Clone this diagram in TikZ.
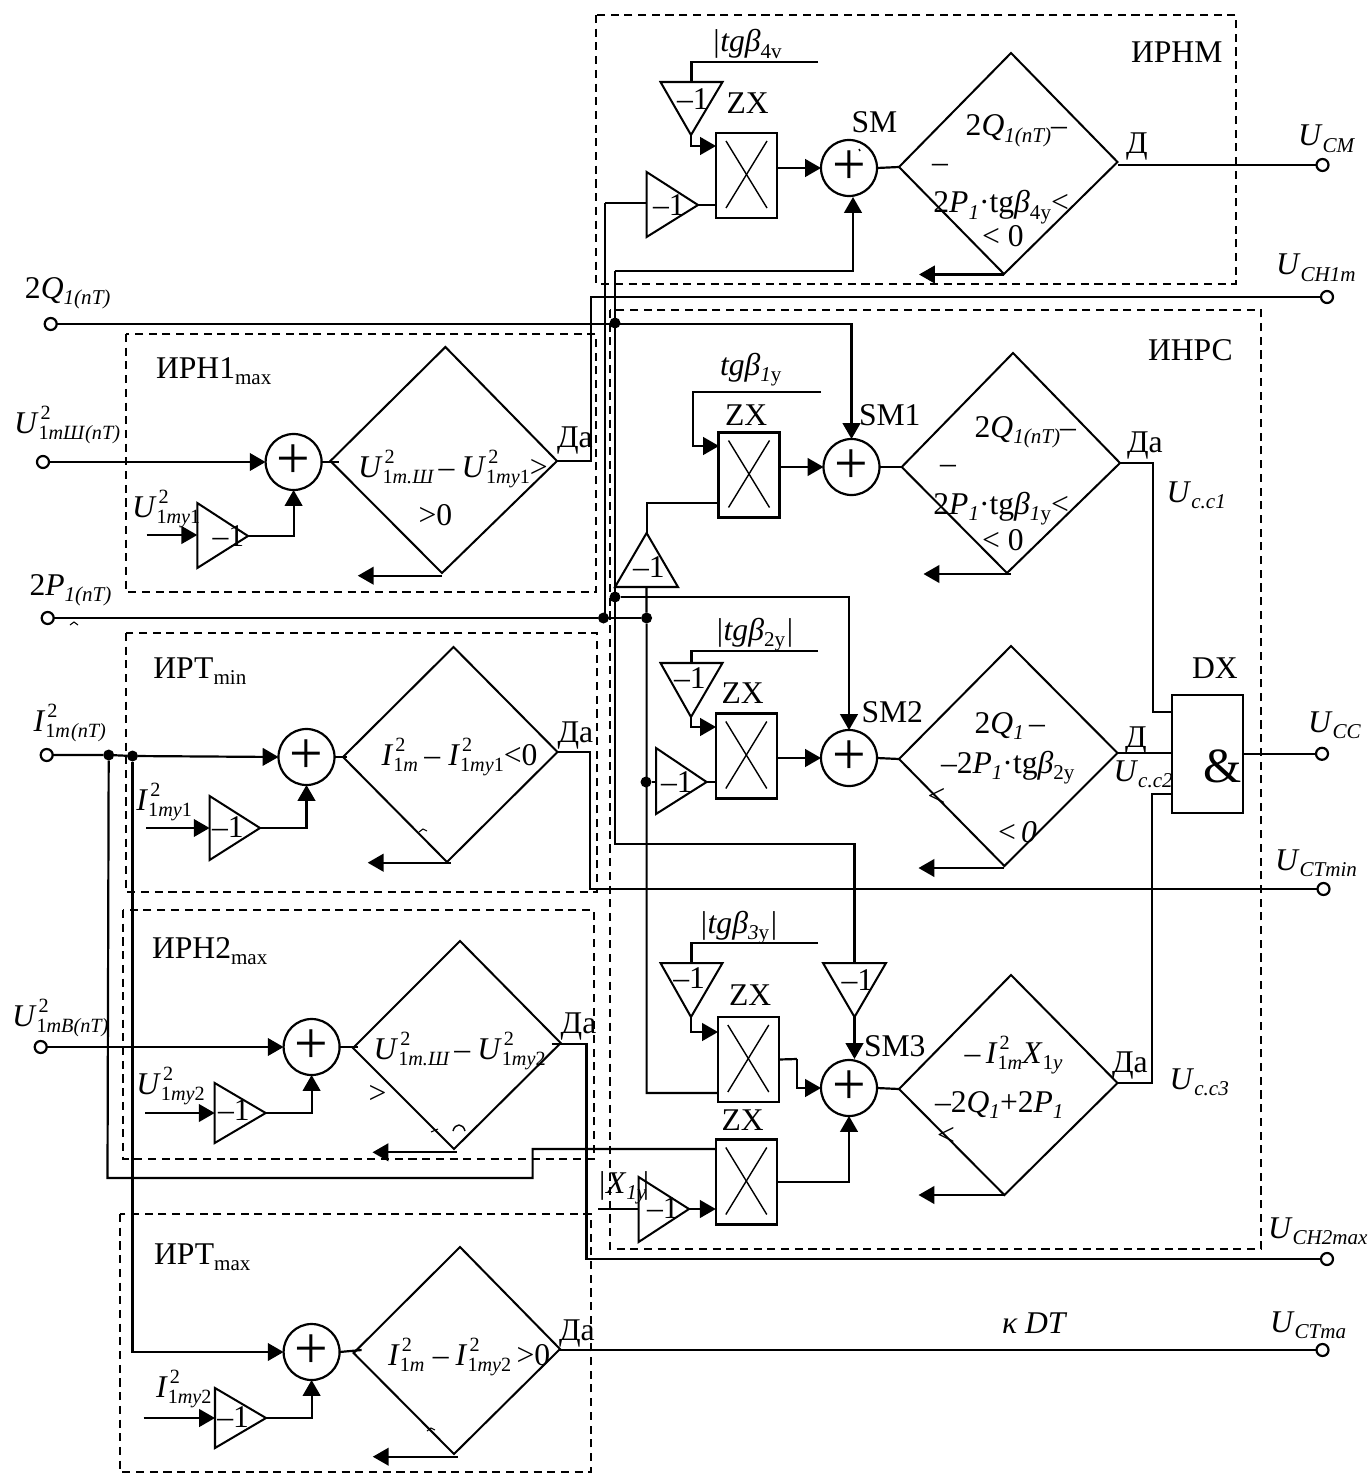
\documentclass[tikz,border=0pt]{standalone}
\usepackage{fontspec}
\setmainfont{Liberation Serif}
\usetikzlibrary{arrows.meta,calc}
\newdimen\pxu \pxu=0.5669pt
\newcounter{lbn}
\newcommand\sz{\fontsize{11.5}{12}\selectfont}
\newcommand\szb{\fontsize{12}{12}\selectfont}
\newcommand\I[1]{\textit{#1}}
\newcommand\lo[1]{\raisebox{-3.6pt}{\szb #1}}
\newcommand\hl[2]{\rlap{\kern1.2pt\raisebox{7.5pt}{\sz #1}}\raisebox{-3.8pt}{\sz #2}}
\newcommand\pw[2]{\makebox[#1\pxu][l]{#2}}
\newcommand\tx[2]{\stepcounter{lbn}\node[txt] (lb\thelbn) at (#1) {#2};}
\newcommand\tri[4]{\coordinate (#1a) at (#2);\coordinate (#1b) at (#3);\coordinate (#1c) at (#4);
  \coordinate (#1m) at ($(#1a)!.5!(#1b)$);
  \draw[shp] (#1a) -- (#1b) -- (#1c) -- cycle;}
\newcommand\dia[5]{\coordinate (#1t) at (#2);\coordinate (#1r) at (#3);\coordinate (#1b) at (#4);\coordinate (#1l) at (#5);
  \draw[shp] (#1t) -- (#1r) -- (#1b) -- (#1l) -- cycle;}
\newcommand\zx[2]{\node[zxbox] (#1) at (#2) {};
  \draw[shp,line width=.8pt] ([shift={(10,8)}]#1.north west) -- ([shift={(-10,-10)}]#1.south east);
  \draw[shp,line width=.8pt] ([shift={(-10,8)}]#1.north east) -- ([shift={(10,-10)}]#1.south west);}
\tikzset{
  shp/.style={line width=1.15pt,line join=miter},
  cn/.style={line width=1.25pt},
  arr/.style={line width=1.25pt,-{Triangle[length=9pt,width=10pt]}},
  dbox/.style={line width=1pt,dash pattern=on 4.6pt off 3.2pt},
  zxbox/.style={draw,line width=1.25pt,minimum width=61*0.02cm,minimum height=85*0.02cm,inner sep=0pt,outer sep=0pt},
  sumc/.style={draw,circle,line width=1.25pt,minimum size=56*0.02cm,inner sep=0pt,outer sep=0pt,font=\fontsize{34}{34}\selectfont},
  term/.style={draw,circle,line width=1.25pt,fill=white,minimum size=12*0.02cm,inner sep=0pt,outer sep=0pt},
  jdot/.style={circle,fill=black,minimum size=11*0.02cm,inner sep=0pt,outer sep=0pt},
  txt/.style={anchor=base west,inner sep=0pt,outer sep=0pt,font=\fontsize{18}{20}\selectfont},
}
\begin{document}
\begin{tikzpicture}[x=0.02cm,y=-0.02cm]
\useasboundingbox (0,0) rectangle (1368,1473);
\fill[white] (0,0) rectangle (1368,1473);
% dashed groups
\draw[dbox] (596,15) rectangle (1236,284);
\draw[dbox] (610,310) rectangle (1261,1249);
\draw[dbox] (126,334) rectangle (596,592);
\draw[dbox] (126,633) rectangle (597,892);
\draw[dbox] (123,910) rectangle (594,1159);
\draw[dbox] (120,1214) rectangle (591,1472);
% summers
\node[sumc] (sm)  at (849,168) {+};
\node[sumc] (sm1) at (851.5,467) {+};
\node[sumc] (sm2) at (849,758) {+};
\node[sumc] (sm3) at (849,1088) {+};
\node[sumc] (ia)  at (293.6,462) {+};
\node[sumc] (ib)  at (306.5,757) {+};
\node[sumc] (ic)  at (311.6,1047) {+};
\node[sumc] (id)  at (311.6,1352) {+};
% multipliers
\zx{zx0}{746.5,175.5}
\zx{zx1}{749,475}
\zx{zx2}{746.3,756}
\zx{zx3}{748.3,1059.5}
\zx{zx4}{746.3,1182}
% triangles
\tri{tna}{660.5,82}{722.5,82}{691,135}
\tri{tnb}{646.6,172}{646.6,237}{698,205}
\tri{tpa}{615,587}{678,587}{646.6,533}
\tri{tqa}{660.5,663}{722.5,663}{691,717}
\tri{tqb}{656,748}{656,814}{706.6,782}
\tri{tra}{660.5,963}{722.5,963}{691,1017}
\tri{trb}{823,963}{886,963}{854.5,1017}
\tri{tsa}{638.6,1177}{638.6,1242}{689,1209}
\tri{tua}{197.3,503}{197.3,568}{248,536}
\tri{tub}{209.6,796}{209.6,860}{260,828}
\tri{tuc}{214.7,1083}{214.7,1143}{265.7,1113}
\tri{tud}{215,1388}{215,1448}{266,1418}
% diamonds
\dia{da}{1011,53}{1117.5,162}{1004,274}{899,167}
\dia{db}{1013,353}{1120,463}{1007,573}{901.7,467}
\dia{dc}{1011,646}{1117.5,753}{1004.4,866}{899,759}
\dia{dd}{1011,975}{1117.5,1083}{1004.4,1195}{899,1089}
\dia{de}{445.4,347}{557,461}{442,573}{330.4,461}
\dia{df}{453.5,647}{557.5,752}{447,862}{343,757}
\dia{dg}{460,941}{560.7,1043}{454,1149}{353,1048}
\dia{dh}{460,1247}{560,1349}{454,1454}{353.6,1353}
% DX
\node[draw,line width=1.25pt,minimum width=70.6*0.02cm,minimum height=117.7*0.02cm,inner sep=0pt,outer sep=0pt] (dx) at (1207.3,753.8) {};
% terminals
\node[term] (tQ)  at (50.7,324) {};
\node[term] (tU1) at (43,462) {};
\node[term] (tP)  at (47.7,618) {};
\node[term] (tI)  at (46.7,755) {};
\node[term] (tU2) at (40.7,1047) {};
\node[term] (tCM) at (1322.5,165) {};
\node[term] (tH1) at (1327,297) {};
\node[term] (tCC) at (1322,753.8) {};
\node[term] (tCT) at (1323.5,889) {};
\node[term] (tH2) at (1327,1259) {};
\node[term] (tCX) at (1322.5,1350) {};
% junctions
\node[jdot] (jq) at (615,323) {};
\node[jdot] (jp) at (615,597) {};
\node[jdot] (jb) at (603.5,618) {};
\node[jdot] (jc) at (646.6,618) {};
\node[jdot] (jd) at (646,782) {};
\node[jdot] (jI) at (108.7,755) {};
\node[jdot] (jJ) at (132.5,756) {};
% free ends and bends
\coordinate (fa) at (818,62);
\coordinate (fb) at (821,392);
\coordinate (fc) at (818,651);
\coordinate (fd) at (818,943);
\coordinate (fe) at (598.4,1209);
\coordinate (ff) at (146.6,535);
\coordinate (fg) at (146,828);
\coordinate (fh) at (145,1113);
\coordinate (fi) at (143.7,1418);
\coordinate (ka) at (693,392);
\coordinate (kb) at (605,203);
\coordinate (kc) at (615,271);
\coordinate (kd) at (615,844);
\coordinate (ke) at (853,271);
\coordinate (kf) at (853,197);
\coordinate (kg) at (1153,463);
\coordinate (kh) at (1153,712);
\coordinate (ki) at (1152,1083);
\coordinate (kj) at (1152,794);
\coordinate (kk) at (591,461);
\coordinate (kl) at (591,297);
\coordinate (km) at (590,752);
\coordinate (kn) at (590,889);
\coordinate (ko) at (586.4,1044);
\coordinate (kp) at (586.4,1259);
\coordinate (kq) at (532.6,1178);
\coordinate (kr) at (532.6,1149);
\coordinate (ks) at (797,1059);
\coordinate (kt) at (854.5,1059);
\coordinate (ku) at (107.5,1178);
% connectors in the upper group
\draw[cn] (fa) -| (tnam);
\draw[arr] (tnac) |- (716,146);
\draw[cn] (tnbc) -- (tnbc -| zx0.west);
\draw[cn] (kb) -- (kb -| tnba);
\draw[cn] (kb) |- (jb);
\draw[arr] (sm.west -| zx0.east) -- (sm.west);
\draw[cn] (sm.east) -- (dal);
\draw[cn] (dar |- tCM) -- (tCM.west);
\draw[arr] (kc) -- (ke) -- (kf);
\draw[cn] (kc) -- (kd) -| (trbm);
\draw[arr] (1004,274.5) -- (919,274.5);
% first group in the centre
\draw[arr] (tQ.east) -| (sm1.north);
\draw[arr] (fb) -- (ka) |- (719,446);
\draw[cn] (tpac) |- (719,503);
\draw[arr] (sm1.west -| zx1.east) -- (sm1.west);
\draw[cn] (sm1.east) -- (dbl);
\draw[arr] (1011,574) -- (923.5,574);
\draw[cn] (dbr) -- (kg) |- (kh) -- (kh -| dx.west);
% second group
\draw[cn] (tP.east) -- (jb) -- (jc);
\draw[cn] (tpam) -- (jc) -- (646.6,782) |- (718,1093);
\draw[arr] (jp) -| (sm2.north);
\draw[cn] (fc) -| (tqam);
\draw[arr] (tqac) |- (716,727);
\draw[cn] (jd) -- (jd -| tqba);
\draw[cn] (tqbc) -- (tqbc -| zx2.west);
\draw[arr] (zx2.east |- sm2.west) -- (sm2.west);
\draw[cn] (sm2.east) -- (dcl);
\draw[arr] (1004,868) -- (918.5,868);
\draw[cn] (dcr) -- (dcr -| dx.west);
\draw[cn] (dx.east) -- (tCC.west);
% third group
\draw[cn] (fd) -| (tram);
\draw[arr] (trac) |- (718,1032);
\draw[arr] (trbc) -- (kt);
\draw[cn] (zx3.east) -- (ks);
\draw[arr] (ks) |- (sm3.west);
\draw[cn] (sm3.east) -- (ddl);
\draw[arr] (1004.4,1195) -- (918.5,1195);
\draw[cn] (ddr) -- (ki) |- (kj -| dx.west);
\draw[cn] (fe) -- (fe -| tsaa);
\draw[arr] (tsac) -- (tsac -| zx4.west);
\draw[arr] (zx4.east) -| (sm3.south);
% left inputs
\draw[arr] (tU1.east) -- (ia.west);
\draw[arr] (ff) -- (ff -| tuaa);
\draw[arr] (tuac) -| (ia.south);
\draw[cn] (ia.east) -- (339,462);
\draw[cn] (der) -- (kk) -- (kl) -- (tH1.west);
\draw[arr] (442,575.7) -- (357.8,575.7);
\draw[cn] (tI.east) -- (jI) -- (jJ);
\draw[arr] (jJ) -- (ib.west);
\draw[arr] (fg) -- (fg -| tuba);
\draw[arr] (tubc) -| (ib.south);
\draw[cn] (ib.east) -- (347,757);
\draw[cn] (dfr) -- (km) -- (kn) -- (tCT.west);
\draw[arr] (451,862.7) -- (367.7,862.7);
\draw[arr] (tU2.east) -- (ic.west);
\draw[arr] (fh) -- (fh -| tuca);
\draw[arr] (tucc) -| (ic.south);
\draw[cn] (ic.east) -- (358,1047);
\draw[cn] (551.6,1044) -- (ko) -- (kp) -- (tH2.west);
\draw[arr] (456.7,1152.3) -- (372.5,1152.3);
\draw[cn] (jI) -- (ku) -- (kq) -- (kr) -- (kr -| zx4.west);
\draw[arr] (jJ) |- (id.west);
\draw[arr] (fi) -- (fi -| tuda);
\draw[arr] (tudc) -| (id.south);
\draw[cn] (id.east) -- (361.6,1350);
\draw[cn] (559,1350) -- (tCX.west);
\draw[arr] (457.6,1456.7) -- (372.8,1456.7);
% texts: upper group
\tx{711.6,52}{\I{|tgβ}\lo{4v}}
\tx{1131,63}{ИРНМ}
\tx{726.5,114}{ZX}
\tx{851.5,133}{SM}
\tx{677,110}{–1}
\tx{653,215}{–1}
\tx{965.7,136}{2\I{Q}\lo{\I{1(nT)}}–}
\tx{932,173}{–}
\tx{933.4,213}{2\I{P}\lo{\I{1}}·tg\I{β}\lo{4y}<}
\begin{scope}
\clip (970,220) rectangle (1040,247);
\tx{982,246.5}{< 0}
\end{scope}
\tx{1126,154}{Д}
\tx{1298,146}{\I{U}\lo{\I{CM}}}
\tx{1276,275}{\I{U}\lo{\I{CH1m}}}
% first group
\tx{720,375}{\I{tgβ}\lo{\I{1}y}}
\tx{1148,360}{ИНРС}
\tx{725,425}{ZX}
\tx{859,425}{SM1}
\tx{633,577}{–1}
\tx{974.6,437}{2\I{Q}\lo{\I{1(nT)}}–}
\tx{940,473}{–}
\tx{933.4,514}{2\I{P}\lo{\I{1}}·tg\I{β}\lo{\I{1}y}<}
\tx{982,550}{< 0}
\tx{1127,452}{Да}
\tx{1166.7,502}{\I{U}\lo{\I{c.c1}}}
% second group
\tx{715,640}{\I{|tgβ}\lo{2y}\I{|}}
\tx{674,688}{–1}
\tx{721.5,703}{ZX}
\tx{861.5,722}{SM2}
\tx{661,792}{–1}
\tx{974.6,733}{2\I{Q}\lo{\I{1}}\,–}
\tx{941,773}{–2\I{P}\lo{\I{1}}·tg\I{β}\lo{2y}}
\tx{927.5,806}{<}
\tx{998,842}{<\,\I{0}}
\tx{1125,747}{Д}
\tx{1113.6,781}{\I{U}\lo{\I{c.c2}}}
\tx{1192,678}{DX}
\node[txt,font=\fontsize{28}{28}\selectfont] (amp) at (1203,782) {\&};
\tx{1308,732}{\I{U}\lo{\I{CC}}}
\tx{1275,870}{\I{U}\lo{\I{CTmin}}}
% third group
\tx{699,933}{\I{|tgβ}\lo{\I{3}y}\I{|}}
\tx{673.4,988}{–1}
\tx{841.6,990}{–1}
\tx{729,1005}{ZX}
\tx{864,1056}{SM3}
\tx{964.7,1063}{–\,\I{I}\hl{2}{1\I{m}}\I{X}\lo{1\I{y}}}
\tx{935,1112}{–2\I{Q}\lo{\I{1}}+2\I{P}\lo{\I{1}}}
\tx{937,1145}{<}
\tx{1112,1072}{Да}
\tx{1169.7,1089}{\I{U}\lo{\I{c.c3}}}
\tx{721.5,1130}{ZX}
\tx{597.4,1193}{\I{|X}\lo{\I{1y}}\kern-3pt\I{|}}
\tx{647,1218}{–1}
\tx{1268,1238}{\I{U}\lo{\I{CH2max}}}
% left side
\tx{25,298}{2\I{Q}\lo{\I{1(nT)}}}
\tx{156,378}{ИРН1\lo{max}}
\tx{14,433}{\I{U}\hl{2}{1\I{mШ}\I{(nT)}}}
\tx{132,517}{\I{U}\hl{2}{1\I{my}1}}
\tx{212.5,546}{–1}
\tx{358,477}{\pw{81}{\I{U}\hl{2}{1\I{m.Ш}}}\pw{23}{–}\I{U}\hl{2}{1\I{my}1}>}
\tx{418.5,525}{>0}
\tx{557,447}{Да}
\tx{29.5,595}{2\I{P}\lo{\I{1(nT)}}}
\tx{153.4,678}{ИРТ\lo{min}}
\tx{33.6,731}{\I{I}\hl{2}{1\I{m}\kern.6pt\I{(nT)}}}
\tx{136.4,810}{\I{I}\hl{2}{1\I{my}1}}
\tx{212,837}{–1}
\tx{381.6,765}{\pw{43}{\I{I}\hl{2}{1\I{m}}}\pw{24}{–}\I{I}\hl{2}{1\I{my}1}<0}
\tx{557.5,742}{Да}
\tx{152,958}{ИРН2\lo{max}}
\tx{12,1026}{\I{U}\hl{2}{1\I{mB}\I{(nT)}}}
\tx{136.4,1094}{\I{U}\hl{2}{1\I{my}2}}
\tx{218,1120}{–1}
\tx{373.7,1059}{\pw{81}{\I{U}\hl{2}{1\I{m.Ш}}}\pw{23}{–}\I{U}\hl{2}{1\I{my}2}}
\tx{368.5,1103}{>}
\tx{560.7,1033}{Да}
\tx{154,1264}{ИРТ\lo{max}}
\tx{156,1397}{\I{I}\hl{2}{1\I{my}2}}
\tx{217.4,1427}{–1}
\tx{388,1365}{\pw{45}{\I{I}\hl{2}{1\I{m}}}\pw{23}{–}\I{I}\hl{2}{1\I{my}2}\kern3pt>0}
\tx{559,1340}{Да}
\tx{1002,1333}{\I{κ DT}}
\tx{1270,1332}{\I{U}\lo{\I{CTma}}}
% clipped fragments of characters
\draw[line width=.6pt] (70,625) -- (74,622) -- (78,625);
\draw[line width=.6pt] (419,832) -- (423,829) -- (427,831);
\draw[line width=.6pt] (431,1132) -- (438,1129);
\draw[line width=.8pt] (453,1131) .. controls (455,1123) and (463,1123) .. (465,1131);
\draw[line width=.6pt] (427,1431) -- (431,1428) -- (435,1430);
\draw[line width=.8pt] (859,149) -- (860,151);
\end{tikzpicture}
\end{document}
